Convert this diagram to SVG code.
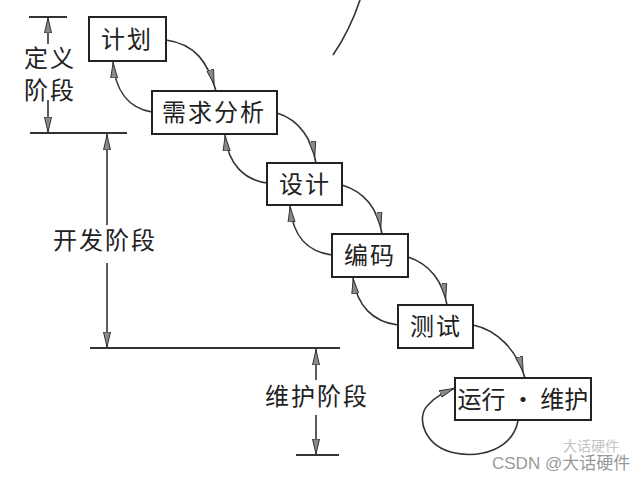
<svg xmlns="http://www.w3.org/2000/svg" width="644" height="480" viewBox="0 0 644 480">
<style>
.box{fill:#fff;stroke:#222;stroke-width:2}
.t{font-family:"Noto Sans CJK SC","Noto Sans CJK TC",sans-serif;font-size:24px;fill:#222;letter-spacing:2px}
.c{fill:none;stroke:#333;stroke-width:1.6}
.ln{fill:none;stroke:#333;stroke-width:2}
.wm{font-family:"Liberation Sans","Noto Sans CJK SC",sans-serif;font-size:17px;fill:#999}
</style>
<defs>
<marker id="fw" markerUnits="userSpaceOnUse" viewBox="0 0 24 10" refX="22" refY="5" markerWidth="24" markerHeight="10" orient="auto">
<path d="M0,1.5 L15,5 L0,8.5 Z" fill="#8a8a8a" stroke="#333" stroke-width="1"/>
</marker>
<marker id="bk" markerUnits="userSpaceOnUse" viewBox="0 0 18 10" refX="16" refY="5" markerWidth="18" markerHeight="10" orient="auto">
<path d="M0,1.5 L15,5 L0,8.5 Z" fill="#8a8a8a" stroke="#333" stroke-width="1"/>
</marker>
</defs>
<rect width="644" height="480" fill="#fff"/>

<g id="stray"><path class="c" d="M360,0 Q350,30 333,55"/></g>

<g id="phases">
<path class="ln" d="M29,17 H67 M30,133 H127 M90,348 H340 M296,455 H339"/>
<path class="c" d="M48,44 V17" marker-end="url(#bk)"/>
<path class="c" d="M48,100 V133" marker-end="url(#bk)"/>
<path class="c" d="M107,225 V134" marker-end="url(#bk)"/>
<path class="c" d="M107,263 V348" marker-end="url(#bk)"/>
<path class="c" d="M316,380 V349" marker-end="url(#bk)"/>
<path class="c" d="M316,415 V455" marker-end="url(#bk)"/>
<text class="t" x="24" y="67">定义</text>
<text class="t" x="24" y="99">阶段</text>
<text class="t" x="53" y="249">开发阶段</text>
<text class="t" x="265" y="405">维护阶段</text>
</g>

<g id="connectors">
<path class="c" d="M166,40 C195,44 208,62 216,91" marker-end="url(#fw)"/>
<path class="c" d="M152,112 C128,108 115,90 113,62" marker-end="url(#bk)"/>
<path class="c" d="M277,113 C300,120 312,140 316,163" marker-end="url(#fw)"/>
<path class="c" d="M267,183 C245,180 228,165 225,135" marker-end="url(#bk)"/>
<path class="c" d="M342,185 C365,192 378,210 382,234" marker-end="url(#fw)"/>
<path class="c" d="M332,255 C308,252 293,238 290,206" marker-end="url(#bk)"/>
<path class="c" d="M408,257 C430,264 443,282 447,305" marker-end="url(#fw)"/>
<path class="c" d="M398,325 C373,322 357,306 353,278" marker-end="url(#bk)"/>
<path class="c" d="M473,325 C497,330 517,350 525,378" marker-end="url(#fw)"/>
<path class="c" d="M518,421 C512,450 480,458 455,453 C425,447 415,418 428,405 C436,396 445,392 455,388" marker-end="url(#bk)"/>
</g>

<g id="n1"><rect class="box" x="89" y="17" width="77" height="44"/><text class="t" x="101" y="48">计划</text></g>
<g id="n2"><rect class="box" x="152" y="91" width="125" height="43"/><text class="t" x="162" y="121">需求分析</text></g>
<g id="n3"><rect class="box" x="267" y="163" width="75" height="42"/><text class="t" x="279" y="193">设计</text></g>
<g id="n4"><rect class="box" x="332" y="234" width="76" height="43"/><text class="t" x="344" y="264">编码</text></g>
<g id="n5"><rect class="box" x="398" y="305" width="75" height="43"/><text class="t" x="410" y="335">测试</text></g>
<g id="n6"><rect class="box" x="455" y="378" width="136" height="42"/><text class="t" x="523" y="408" text-anchor="middle" style="letter-spacing:0" xml:space="preserve">运行 · 维护</text></g>

<g id="watermark">
<text class="wm" x="563" y="451" style="fill:#c4c4c4;font-size:14px">大话硬件</text>
<text class="wm" x="492" y="469">CSDN @大话硬件</text>
</g>
</svg>
